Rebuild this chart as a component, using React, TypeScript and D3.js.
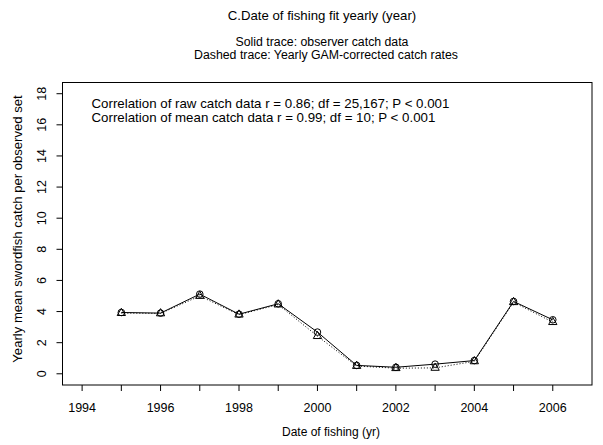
import React, { useEffect, useRef } from 'react';
import * as d3 from 'd3';

const years = [1995, 1996, 1997, 1998, 1999, 2000, 2001, 2002, 2003, 2004, 2005, 2006];
const observed = [3.94, 3.9, 5.12, 3.83, 4.5, 2.68, 0.54, 0.42, 0.62, 0.85, 4.65, 3.47];
const fitted = [3.9, 3.88, 5.0, 3.8, 4.45, 2.42, 0.5, 0.36, 0.38, 0.8, 4.6, 3.32];
const yTicks = [0, 2, 4, 6, 8, 10, 12, 14, 16, 18];
const xTicks = d3.range(1994, 2007);
const xLabels = [1994, 1996, 1998, 2000, 2002, 2004, 2006];
const notes = [
  'Correlation of raw catch data r = 0.86; df = 25,167; P < 0.001',
  'Correlation of mean catch data r = 0.99; df = 10; P < 0.001',
];

const App = () => {
  const ref = useRef<SVGSVGElement>(null);

  useEffect(() => {
    const svg = d3.select(ref.current);
    svg.selectAll('*').remove();
    const left = 62.5, right = 592, top = 82.5, bottom = 385;
    const x = d3.scaleLinear().domain([1993.5, 2007]).range([left, right]);
    const y = d3.scaleLinear().domain([-0.72, 18.72]).range([bottom, top]);
    const font = 'Liberation Sans, Arial, sans-serif';

    svg.append('rect')
      .attr('x', left).attr('y', top)
      .attr('width', right - left).attr('height', bottom - top)
      .attr('fill', 'none').attr('stroke', '#000').attr('stroke-width', 1);

    // x axis
    const xg = svg.append('g').attr('transform', `translate(0,${bottom})`);
    xg.selectAll('line').data(xTicks).enter().append('line')
      .attr('x1', d => x(d)).attr('x2', d => x(d))
      .attr('y1', 0).attr('y2', 6).attr('stroke', '#000');
    xg.selectAll('text').data(xLabels).enter().append('text')
      .attr('x', d => x(d)).attr('y', 27)
      .attr('text-anchor', 'middle').attr('font-size', 12.5).attr('font-family', font)
      .text(d => d);

    // y axis
    const yg = svg.append('g').attr('transform', `translate(${left},0)`);
    yg.selectAll('line').data(yTicks).enter().append('line')
      .attr('x1', -6).attr('x2', 0)
      .attr('y1', d => y(d)).attr('y2', d => y(d)).attr('stroke', '#000');
    yg.selectAll('text').data(yTicks).enter().append('text')
      .attr('transform', d => `translate(-17,${y(d)}) rotate(-90)`)
      .attr('text-anchor', 'middle').attr('font-size', 12.5).attr('font-family', font)
      .text(d => d);

    const line = d3.line<number>()
      .x((d, i) => x(years[i]))
      .y(d => y(d));

    svg.append('path').datum(fitted)
      .attr('d', line).attr('fill', 'none').attr('stroke', '#000')
      .attr('stroke-width', 1).attr('stroke-dasharray', '1,2');
    svg.append('path').datum(observed)
      .attr('d', line).attr('fill', 'none').attr('stroke', '#000').attr('stroke-width', 1);

    svg.selectAll('circle.obs').data(observed).enter().append('circle')
      .attr('class', 'obs')
      .attr('cx', (d, i) => x(years[i])).attr('cy', d => y(d)).attr('r', 3.3)
      .attr('fill', 'none').attr('stroke', '#000').attr('stroke-width', 1);

    const tri = d3.symbol().type(d3.symbolTriangle).size(30);
    svg.selectAll('path.fit').data(fitted).enter().append('path')
      .attr('class', 'fit')
      .attr('d', tri)
      .attr('transform', (d, i) => `translate(${x(years[i])},${y(d)})`)
      .attr('fill', 'none').attr('stroke', '#000').attr('stroke-width', 1);

    // notes
    svg.selectAll('text.note').data(notes).enter().append('text')
      .attr('class', 'note')
      .attr('x', 91.5).attr('y', (d, i) => 108 + i * 14)
      .attr('font-size', 13.3).attr('font-family', font)
      .text(d => d);

    const mid = 322;
    svg.append('text').attr('x', mid).attr('y', 19.5)
      .attr('text-anchor', 'middle').attr('font-size', 13.2).attr('font-family', font)
      .text('C.Date of fishing fit yearly (year)');
    svg.append('text').attr('x', mid).attr('y', 45.5)
      .attr('text-anchor', 'middle').attr('font-size', 12.3).attr('font-family', font)
      .text('Solid trace: observer catch data');
    svg.append('text').attr('x', mid + 4).attr('y', 59)
      .attr('text-anchor', 'middle').attr('font-size', 12.3).attr('font-family', font)
      .text('Dashed trace: Yearly GAM-corrected catch rates');

    svg.append('text').attr('x', 331).attr('y', 436)
      .attr('text-anchor', 'middle').attr('font-size', 12).attr('font-family', font)
      .text('Date of fishing (yr)');
    svg.append('text')
      .attr('transform', `translate(22,229) rotate(-90)`)
      .attr('text-anchor', 'middle').attr('font-size', 13.1).attr('font-family', font)
      .text('Yearly mean swordfish catch per observed set');
  }, []);

  return (
    <svg ref={ref} width={603} height={445}
      style={{ position: 'absolute', left: 0, top: 0, background: '#fff' }} />
  );
};

export default App;
